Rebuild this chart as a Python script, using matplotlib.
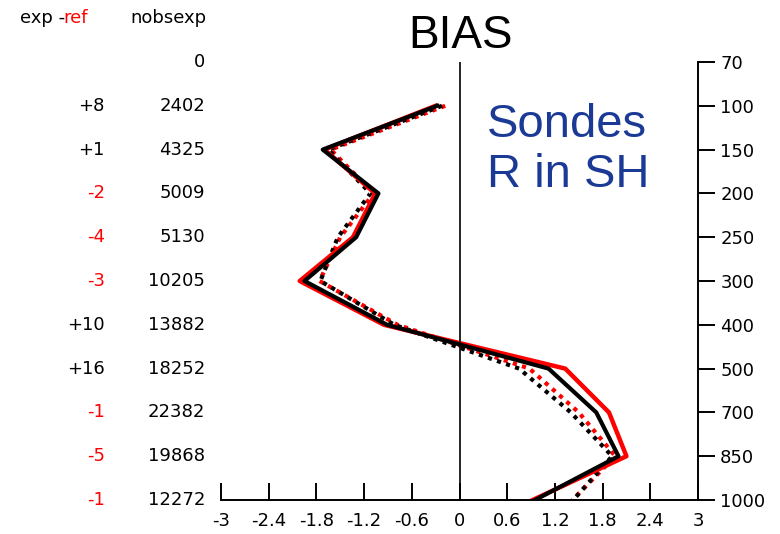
import matplotlib
matplotlib.use("Agg")
import matplotlib.pyplot as plt
import matplotlib.transforms as mtransforms
import numpy as np

plt.rcParams['font.family'] = ['DejaVu Sans']

# pressure levels (hPa), drawn equally spaced
levels = [70, 100, 150, 200, 250, 300, 400, 500, 700, 850, 1000]
nobsexp = ["0", "2402", "4325", "5009", "5130", "10205", "13882", "18252", "22382", "19868", "12272"]
exp_ref = ["", "+8", "+1", "-2", "-4", "-3", "+10", "+16", "-1", "-5", "-1"]

# bias profiles, levels 100..1000
bias_levels = levels[1:]
exp_solid = [-0.28, -1.72, -1.02, -1.30, -1.95, -0.91, 1.12, 1.72, 2.00, 0.95]
ref_solid = [-0.30, -1.70, -1.06, -1.34, -2.01, -0.95, 1.33, 1.88, 2.10, 0.92]
exp_dotted = [-0.22, -1.65, -1.12, -1.53, -1.75, -0.82, 0.75, 1.40, 1.92, 1.43]
ref_dotted = [-0.18, -1.62, -1.08, -1.50, -1.76, -0.78, 0.88, 1.50, 1.96, 1.42]

xticks = [-3, -2.4, -1.8, -1.2, -0.6, 0, 0.6, 1.2, 1.8, 2.4, 3]

W, H = 780, 534
fig = plt.figure(figsize=(W / 100, H / 100), dpi=100)
ax = fig.add_axes([221 / W, 1 - 500 / H, (698 - 221) / W, (500 - 62) / H])

ypos = {lev: i for i, lev in enumerate(levels)}
yb = [ypos[l] for l in bias_levels]

dots = (0, (1, 1.3))
ax.plot(ref_dotted, yb, color='red', lw=3, ls=dots, dash_capstyle='butt')
ax.plot(exp_dotted, yb, color='black', lw=3, ls=dots, dash_capstyle='butt')
ax.plot(ref_solid, yb, color='red', lw=3.2)
ax.plot(exp_solid, yb, color='black', lw=3)

ax.axvline(0, color='black', lw=1.2)

ax.set_xlim(-3, 3)
ax.set_ylim(len(levels) - 1, 0)
ax.spines['left'].set_visible(False)
ax.spines['top'].set_visible(False)
ax.spines['bottom'].set_linewidth(1.4)
ax.spines['right'].set_linewidth(1.4)

ax.set_xticks(xticks)
ax.set_xticklabels([f"{t:g}" for t in xticks])
ax.tick_params(axis='x', direction='in', length=12, width=1.4, labelsize=13, pad=9)
ax.yaxis.tick_right()
ax.set_yticks(range(len(levels)))
ax.set_yticklabels([str(l) for l in levels])
ax.tick_params(axis='y', direction='out', length=12, width=1.4, labelsize=13, pad=4)

# left-hand table of counts
trans = mtransforms.blended_transform_factory(fig.transFigure, ax.transData)
for i, lev in enumerate(levels):
    ax.text(205 / W, i, nobsexp[i], transform=trans, ha='right', va='center',
            fontsize=13, clip_on=False)
    s = exp_ref[i]
    if s:
        col = 'red' if s.startswith('-') else 'black'
        ax.text(105 / W, i, s, transform=trans, ha='right', va='center',
                fontsize=13, color=col, clip_on=False)

fig.text(20 / W, 1 - 18 / H, "exp -", ha='left', va='center', fontsize=13)
fig.text(63 / W, 1 - 18 / H, "ref", ha='left', va='center', fontsize=13, color='red')
fig.text(130 / W, 1 - 18 / H, "nobsexp", ha='left', va='center', fontsize=13)

fig.text(460 / W, 1 - 36 / H, "BIAS", ha='center', va='center', fontsize=33,
         family='Liberation Sans')
fig.text(487 / W, 1 - 150 / H, "Sondes\nR in SH", ha='left', va='center',
         fontsize=34, color='#1b3a96', linespacing=1.2, family='Liberation Sans')

fig.savefig("out.png", dpi=100)
